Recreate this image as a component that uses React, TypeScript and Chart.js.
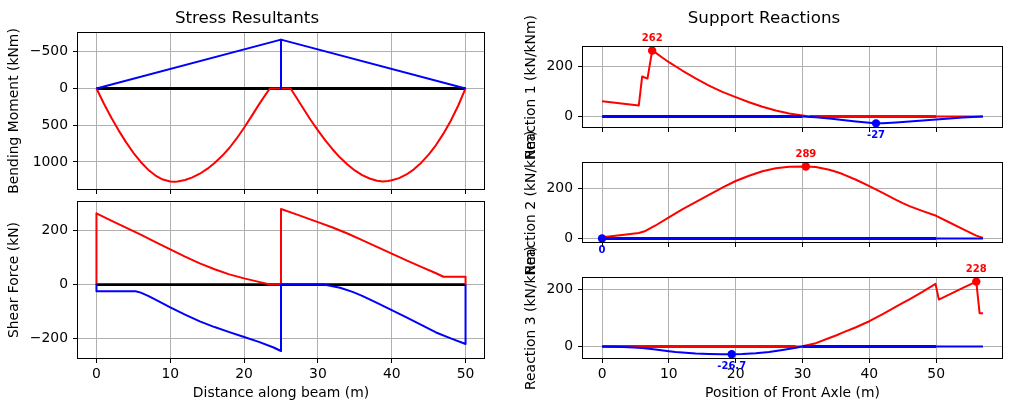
import React, { useEffect, useRef } from "react";
import { Chart, registerables } from "chart.js";

Chart.register(...registerables);

const FONT = '"DejaVu Sans", "Liberation Sans", sans-serif';
const W = 1011;
const H = 411;

Chart.defaults.font.family = FONT;
Chart.defaults.color = "#000";

// ---- tick positions ----
const beamTicks = [0, 10, 20, 30, 40, 50];
const momentTicks = [-500, 0, 500, 1000];
const shearTicks = [-200, 0, 200];
const axleTicks = [0, 10, 20, 30, 40, 50];
const reactionTicks = [0, 200];

// ---- beam reference line ----
const beamX = [0, 50];
const beamY = [0, 0];

// ---- bending moment envelopes (kNm) ----
const momentMaxX = [0, 1, 2, 3, 4, 5, 6, 7, 8, 9, 10, 10.5, 11, 12, 13, 14, 15, 16, 17, 18, 19, 20, 21, 22, 23, 23.5,
  26.3, 27, 28, 29, 30, 31, 32, 33, 34, 35, 36, 37, 38, 38.8, 39.5, 40, 41, 42, 43, 44, 45, 46, 47, 48, 49, 50];
const momentMaxY = [0, 205, 395, 570, 730, 875, 1000, 1105, 1185, 1240, 1265, 1270, 1265, 1245, 1210, 1160, 1095, 1015, 920, 810, 680, 535, 380, 220, 70, 0,
  0, 110, 270, 425, 570, 705, 830, 940, 1035, 1115, 1180, 1225, 1255, 1265, 1260, 1250, 1220, 1170, 1100, 1010, 900, 770, 615, 440, 235, 0];
const momentMinX = [0, 25, 25, 25, 50];
const momentMinY = [0, -665, 0, -665, 0];

// ---- shear force envelopes (kN) ----
const shearMaxX = [0, 0, 2, 4, 6, 8, 10, 12, 14, 16, 18, 20, 22, 23.5, 25, 25, 27, 30, 32, 34, 36, 38, 40, 42, 44, 46, 47, 50, 50];
const shearMaxY = [0, 265, 238, 212, 186, 158, 131, 104, 79, 57, 38, 23, 10, 0, 0, 281, 262, 232, 212, 190, 165, 140, 115, 90, 66, 42, 29, 29, 0];
const shearMinX = [0, 0, 5.3, 6, 7, 8, 10, 12, 14, 16, 18, 20, 22, 24, 25, 25, 30.8, 33, 34.7, 36, 38, 40, 42, 44, 46, 48, 50, 50];
const shearMinY = [0, -25, -25, -30, -42, -56, -85, -112, -137, -158, -177, -195, -213, -234, -247, 0, 0, -12, -27, -42, -68, -95, -122, -150, -178, -200, -221, 0];

// ---- support reactions vs front axle position (kN/kNm) ----
const r1MaxX = [0, 5.5, 6, 6.8, 7.5, 8, 9, 10, 12, 14, 16, 18, 20, 22, 24, 26, 28, 30, 31, 50, 57];
const r1MaxY = [61, 44, 159, 151, 262, 254, 235, 216, 183, 152, 123, 98, 77, 57, 39, 24, 12, 4, 0, 0, 0];
const r1MinX = [0, 30, 32, 34, 36, 38, 40, 41, 42, 44, 46, 48, 50, 52, 54, 57];
const r1MinY = [0, 0, -3, -8, -14, -20, -25, -27, -27, -24, -20, -16, -12, -8, -4, 0];

const r2MaxX = [0, 3, 5.5, 6.5, 8, 10, 12, 14, 16, 18, 20, 22, 24, 26, 28, 30.5, 32, 34, 35, 36, 38, 40, 42, 44, 45, 46, 48, 50, 52, 54, 56, 57];
const r2MaxY = [5, 14, 22, 30, 52, 85, 117, 146, 175, 204, 231, 252, 270, 282, 288, 289, 287, 276, 268, 259, 236, 210, 183, 155, 142, 130, 110, 91, 64, 37, 11, 2];
const r2MinX = [0, 50, 57];
const r2MinY = [0, 0, 0];

const r3MaxX = [0, 29, 30, 32, 34, 35, 36, 38, 40, 42, 44, 45, 46, 48, 49.9, 50.4, 52, 54, 56, 56.5, 57];
const r3MaxY = [0, 0, 1, 12, 30, 39, 49, 68, 89, 114, 140, 153, 166, 193, 220, 165, 183, 206, 228, 117, 117];
const r3MinX = [0, 2, 4, 6, 8, 10, 11, 12, 14, 16, 18, 19.4, 21, 23, 25, 27, 29, 30, 50, 57];
const r3MinY = [0, -0.5, -2, -5, -10, -16, -19, -21, -24.5, -26, -26.6, -26.7, -26.2, -23.5, -19, -12, -4, 0, 0, 0];

// ---- extreme values marked on the reaction plots ----
const r1Peak = { x: 7.5, y: 262 };
const r1Low = { x: 41, y: -27 };
const r2Peak = { x: 30.5, y: 289 };
const r2Low = { x: 0, y: 0 };
const r3Peak = { x: 56, y: 228 };
const r3Low = { x: 19.4, y: -26.7 };

// span length: zero stretches along the beam itself are drawn heavier
const SPAN_END = 50;

const RED = "#ff0000";
const BLUE = "#0000ff";
const BLACK = "#000000";

type Series = { xs: number[]; ys: number[]; color: string; width: number; boldZero?: boolean };
type Marker = { x: number; y: number; color: string; side: "above" | "below" };
type Panel = {
  area: [number, number, number, number];
  boxLeft: number;
  xRange: [number, number];
  xTicks: number[];
  xLabels: boolean;
  xTitle?: string;
  yRange: [number, number];
  yTicks: number[];
  yReverse?: boolean;
  yTitle: string;
  yTitlePad: number;
  series: Series[];
  markers?: Marker[];
  heading?: { text: string; x: number; y: number };
};

const LINE = 2;

const panels: Panel[] = [
  {
    area: [78, 33, 484, 189],
    boxLeft: 0,
    xRange: [-2.5, 52.5],
    xTicks: beamTicks,
    xLabels: false,
    yRange: [-755, 1368],
    yTicks: momentTicks,
    yReverse: true,
    yTitle: "Bending Moment (kNm)",
    yTitlePad: 5.6,
    series: [
      { xs: beamX, ys: beamY, color: BLACK, width: 2.8 },
      { xs: momentMaxX, ys: momentMaxY, color: RED, width: LINE },
      { xs: momentMinX, ys: momentMinY, color: BLUE, width: LINE },
    ],
    heading: { text: "Stress Resultants", x: 247, y: 23.3 },
  },
  {
    area: [78, 202, 484, 358],
    boxLeft: 0,
    xRange: [-2.5, 52.5],
    xTicks: beamTicks,
    xLabels: true,
    xTitle: "Distance along beam (m)",
    yRange: [-273, 307],
    yTicks: shearTicks,
    yTitle: "Shear Force (kN)",
    yTitlePad: 5.6,
    series: [
      { xs: beamX, ys: beamY, color: BLACK, width: 2.8 },
      { xs: shearMaxX, ys: shearMaxY, color: RED, width: LINE },
      { xs: shearMinX, ys: shearMinY, color: BLUE, width: LINE },
    ],
  },
  {
    area: [583, 47, 1002, 127],
    boxLeft: 510,
    xRange: [-2.85, 59.85],
    xTicks: axleTicks,
    xLabels: false,
    yRange: [-41.5, 276.5],
    yTicks: reactionTicks,
    yTitle: "Reaction 1 (kN/kNm)",
    yTitlePad: 12.8,
    series: [
      { xs: r1MaxX, ys: r1MaxY, color: RED, width: LINE, boldZero: true },
      { xs: r1MinX, ys: r1MinY, color: BLUE, width: LINE, boldZero: true },
    ],
    markers: [
      { ...r1Peak, color: RED, side: "above" },
      { ...r1Low, color: BLUE, side: "below" },
    ],
    heading: { text: "Support Reactions", x: 764, y: 23 },
  },
  {
    area: [583, 163, 1002, 242],
    boxLeft: 510,
    xRange: [-2.85, 59.85],
    xTicks: axleTicks,
    xLabels: false,
    yRange: [-14.45, 303.45],
    yTicks: reactionTicks,
    yTitle: "Reaction 2 (kN/kNm)",
    yTitlePad: 12.8,
    series: [
      { xs: r2MaxX, ys: r2MaxY, color: RED, width: LINE, boldZero: true },
      { xs: r2MinX, ys: r2MinY, color: BLUE, width: LINE, boldZero: true },
    ],
    markers: [
      { ...r2Peak, color: RED, side: "above" },
      { ...r2Low, color: BLUE, side: "below" },
    ],
  },
  {
    area: [583, 278, 1002, 358],
    boxLeft: 510,
    xRange: [-2.85, 59.85],
    xTicks: axleTicks,
    xLabels: true,
    xTitle: "Position of Front Axle (m)",
    yRange: [-40, 240.7],
    yTicks: reactionTicks,
    yTitle: "Reaction 3 (kN/kNm)",
    yTitlePad: 12.8,
    series: [
      { xs: r3MaxX, ys: r3MaxY, color: RED, width: LINE, boldZero: true },
      { xs: r3MinX, ys: r3MinY, color: BLUE, width: LINE, boldZero: true },
    ],
    markers: [
      { ...r3Peak, color: RED, side: "above" },
      { ...r3Low, color: BLUE, side: "below" },
    ],
  },
];

const fmtTick = (v: number) => (v < 0 ? "\u2212" + String(-v) : String(v));

// Full box around the plotting area, like axis spines on all sides
const framePlugin = {
  id: "frame",
  afterDraw(chart: any) {
    const { left, top, right, bottom } = chart.chartArea;
    const ctx = chart.ctx;
    ctx.save();
    ctx.strokeStyle = "#000";
    ctx.lineWidth = 1;
    ctx.strokeRect(Math.round(left) - 0.5, Math.round(top) - 0.5, Math.round(right - left) + 1, Math.round(bottom - top) + 1);
    ctx.restore();
  },
};

// Value labels next to the marked extreme points
const notesPlugin = {
  id: "pointNotes",
  afterDatasetsDraw(chart: any) {
    const ctx = chart.ctx;
    chart.data.datasets.forEach((ds: any, i: number) => {
      if (!ds.noteSide) return;
      const meta = chart.getDatasetMeta(i);
      meta.data.forEach((el: any, k: number) => {
        const v = ds.data[k].y;
        ctx.save();
        ctx.font = `bold 10px ${FONT}`;
        ctx.fillStyle = ds.pointBackgroundColor;
        ctx.textAlign = "center";
        ctx.textBaseline = "middle";
        ctx.fillText(String(v), el.x, el.y + (ds.noteSide === "above" ? -12 : 12));
        ctx.restore();
      });
    });
  },
};

function makeConfig(p: Panel): any {
  const [l, t, r, b] = p.area;
  const n = p.series.length;
  const datasets: any[] = p.series.map((s, i) => ({
    data: s.xs.map((x, k) => ({ x, y: s.ys[k] })),
    borderColor: s.color,
    backgroundColor: s.color,
    borderWidth: s.width,
    borderJoinStyle: "round",
    pointRadius: 0,
    tension: 0,
    fill: false,
    segment: s.boldZero
      ? {
          borderWidth: (c: any) =>
            c.p0.parsed.y === 0 && c.p1.parsed.y === 0 && c.p1.parsed.x <= SPAN_END ? 3 : s.width,
        }
      : undefined,
    // later series sit on top
    order: n - i + 1,
  }));
  (p.markers || []).forEach((m) => {
    datasets.push({
      data: [{ x: m.x, y: m.y }],
      showLine: false,
      pointRadius: 4.2,
      pointBackgroundColor: m.color,
      pointBorderColor: m.color,
      pointBorderWidth: 0,
      borderColor: m.color,
      backgroundColor: m.color,
      order: 0,
      noteSide: m.side,
    });
  });

  const titleFont = { family: FONT, size: 13.9 };
  const grid = { color: "#b0b0b0", lineWidth: 1, tickColor: "#000", tickLength: 5, tickWidth: 1 };

  const headingPlugin = {
    id: "heading",
    afterDraw(chart: any) {
      if (!p.heading) return;
      const ctx = chart.ctx;
      ctx.save();
      ctx.font = `16.7px ${FONT}`;
      ctx.fillStyle = "#000";
      ctx.textAlign = "center";
      ctx.textBaseline = "alphabetic";
      ctx.fillText(p.heading.text, p.heading.x, p.heading.y);
      ctx.restore();
    },
  };

  return {
    type: "line",
    data: { datasets },
    options: {
      animation: false,
      responsive: false,
      events: [],
      layout: { padding: { left: p.boxLeft, top: t, right: W - r, bottom: 0 } },
      plugins: { legend: { display: false }, tooltip: { enabled: false }, title: { display: false } },
      scales: {
        x: {
          type: "linear",
          min: p.xRange[0],
          max: p.xRange[1],
          afterBuildTicks: (s: any) => {
            s.ticks = p.xTicks.map((v) => ({ value: v }));
          },
          afterFit: (s: any) => {
            s.height = H - b;
          },
          ticks: {
            display: p.xLabels,
            autoSkip: false,
            maxRotation: 0,
            padding: 3.5,
            color: "#000",
            font: { family: FONT, size: 13.9 },
            callback: (v: any) => fmtTick(Number(v)),
          },
          grid,
          border: { display: false },
          title: p.xTitle
            ? { display: true, text: p.xTitle, color: "#000", font: titleFont, padding: { top: 0, bottom: 9.3 } }
            : { display: false },
        },
        y: {
          type: "linear",
          min: p.yRange[0],
          max: p.yRange[1],
          reverse: !!p.yReverse,
          afterBuildTicks: (s: any) => {
            s.ticks = p.yTicks.map((v) => ({ value: v }));
          },
          afterFit: (s: any) => {
            s.width = l - p.boxLeft;
          },
          ticks: {
            autoSkip: false,
            padding: 5,
            color: "#000",
            font: { family: FONT, size: 13.9 },
            callback: (v: any) => fmtTick(Number(v)),
          },
          grid,
          border: { display: false },
          title: { display: true, text: p.yTitle, color: "#000", font: titleFont, padding: { top: p.yTitlePad, bottom: 0 } },
        },
      },
    },
    plugins: [framePlugin, notesPlugin, headingPlugin],
  };
}

function PanelCanvas({ panel }: { panel: Panel }) {
  const ref = useRef<HTMLCanvasElement | null>(null);
  useEffect(() => {
    if (!ref.current) return;
    const chart = new Chart(ref.current, makeConfig(panel));
    return () => chart.destroy();
  }, [panel]);
  return (
    <canvas
      ref={ref}
      width={W}
      height={H}
      style={{ position: "absolute", left: 0, top: 0, width: W, height: H }}
    />
  );
}

export default function App() {
  return (
    <div style={{ position: "fixed", left: 0, top: 0, width: W, height: H, background: "#fff" }}>
      {panels.map((p, i) => (
        <PanelCanvas key={i} panel={p} />
      ))}
    </div>
  );
}
